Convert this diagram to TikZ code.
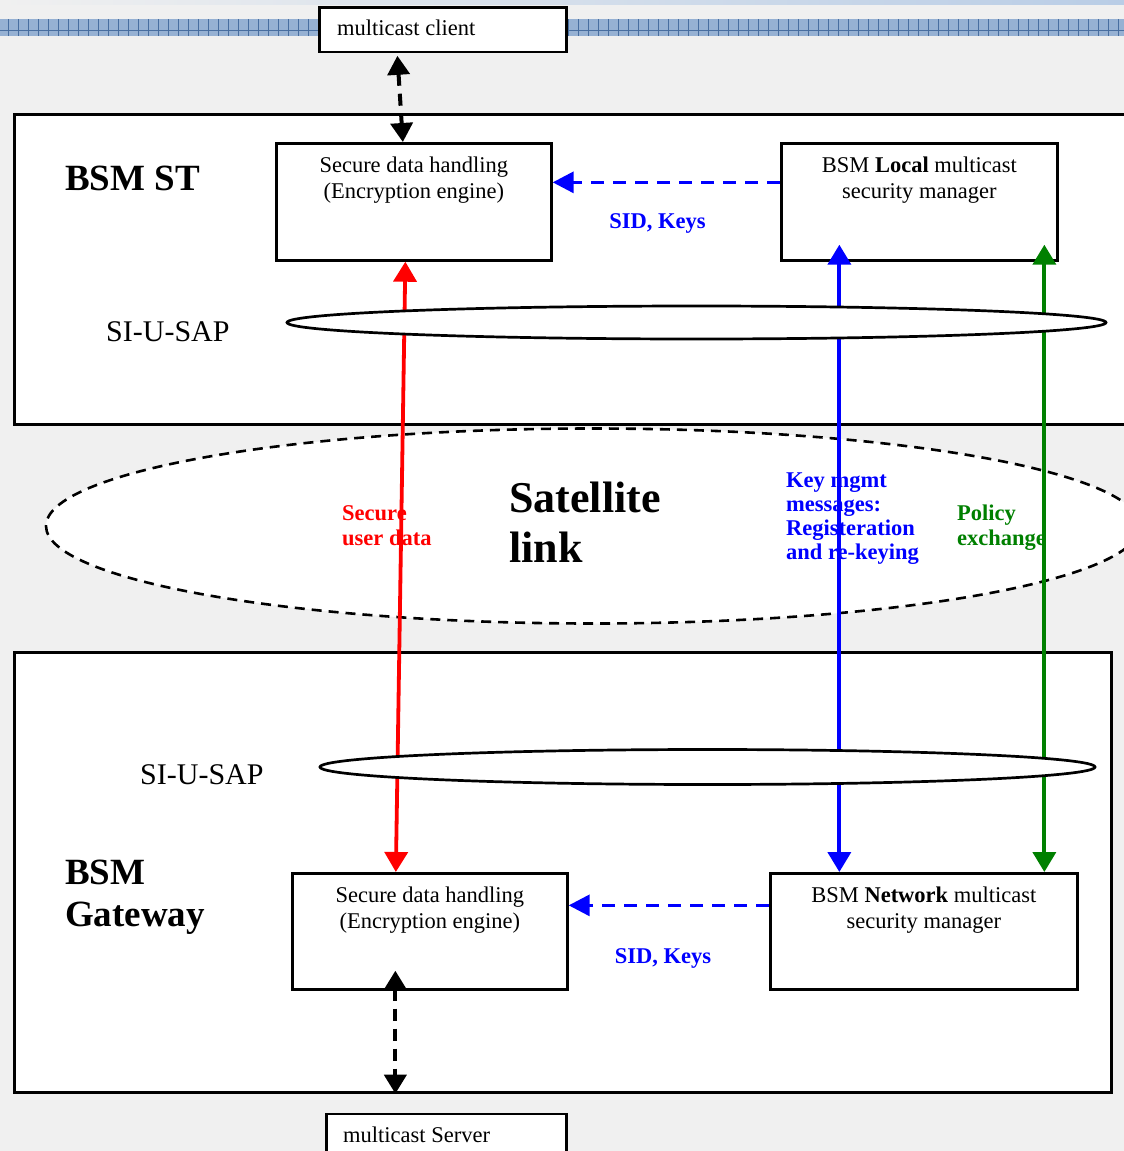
\documentclass[tikz,border=0pt]{standalone}
\usepackage{fontspec}
\setmainfont{Liberation Serif}
\usetikzlibrary{shapes.geometric,arrows.meta}
\definecolor{bg}{RGB}{240,240,240}
\definecolor{bandfill}{RGB}{150,177,211}
\definecolor{bandline}{RGB}{72,110,160}
\definecolor{topblue}{RGB}{185,205,230}
\definecolor{dgreen}{RGB}{0,128,0}
\tikzset{
  frame/.style={draw=black, line width=2.7pt, fill=white, inner sep=0pt, anchor=north west},
  boxtext/.style={inner sep=0pt, align=center, anchor=north, font=\fontsize{22.5pt}{26pt}\selectfont},
  plain/.style={inner sep=0pt, font=\fontsize{22.5pt}{26pt}\selectfont},
  biglabel/.style={inner sep=0pt, align=left, anchor=north west, font=\fontsize{37pt}{42pt}\selectfont\bfseries},
  saplabel/.style={inner sep=0pt, anchor=base west, font=\fontsize{30pt}{34pt}\selectfont},
  sap/.style={ellipse, draw=black, line width=2.7pt, fill=white, inner sep=0pt},
  colarr/.style={line width=3.8pt, {Triangle[length=20pt,width=23pt]}-{Triangle[length=20pt,width=23pt]}},
  bdash/.style={blue, line width=3.4pt, dash pattern=on 13pt off 9pt, -{Triangle[length=21pt,width=21pt]}},
  kdash/.style={black, line width=4pt, dash pattern=on 12pt off 8pt, {Triangle[length=19pt,width=22pt]}-{Triangle[length=19pt,width=22pt]}},
  note/.style={inner sep=0pt, align=left, anchor=north west, font=\fontsize{22.5pt}{25pt}\selectfont\bfseries}
}
\begin{document}
\begin{tikzpicture}[x=1pt,y=-1pt]
\useasboundingbox (0,0) rectangle (1124,1151);
\clip (0,0) rectangle (1124,1151);
\fill[bg] (0,0) rectangle (1124,1151);
\shade[left color=bg, right color=topblue] (0,0) rectangle (1124,4);
\fill[bandfill] (0,19) rectangle (1124,36);
\foreach \i in {8,18,...,1124} \draw[bandline, line width=0.8pt] (\i,19) -- (\i,36);
\draw[bandline, line width=0.8pt] (0,30.7) -- (1124,30.7);

% outer frames
\node[frame, line width=2.8pt, minimum width=247pt, minimum height=44.5pt] (client) at (318,6) {};
\node[frame, minimum width=1130pt, minimum height=310pt] (st) at (13,113) {};
\node[frame, minimum width=1097pt, minimum height=440pt] (gw) at (13,651) {};
\node[ellipse, draw=black, line width=2.6pt, dash pattern=on 10pt off 7pt, fill=white, inner sep=0pt,
      minimum width=1094pt, minimum height=195pt] (sat) at (593,526) {};

% inner boxes
\node[frame, minimum width=275pt, minimum height=117pt] (sdh1) at (275,142) {};
\node[frame, minimum width=276pt, minimum height=117pt] (loc) at (780,142) {};
\node[frame, minimum width=275pt, minimum height=116pt] (gsdh) at (291,872) {};
\node[frame, minimum width=307pt, minimum height=116pt] (net) at (769,872) {};

% texts
\node[plain, anchor=base west] (clienttxt) at (337,35) {multicast client};
\node[boxtext] (sdh1txt) at ([yshift=-14.5pt]sdh1.north) {Secure data handling\\(Encryption engine)};
\node[boxtext] (loctxt) at ([yshift=-14.5pt]loc.north) {BSM \textbf{Local} multicast\\security manager};
\node[boxtext] (gsdhtxt) at ([yshift=-14.5pt]gsdh.north) {Secure data handling\\(Encryption engine)};
\node[boxtext] (nettxt) at ([yshift=-14.5pt]net.north) {BSM \textbf{Network} multicast\\security manager};

\node[biglabel, anchor=base west] (stlbl) at (65,190) {BSM ST};
\node[biglabel] (gwlbl) at (65,860) {BSM\\Gateway};
\node[inner sep=0pt, align=left, anchor=north west, font=\fontsize{44pt}{50pt}\selectfont\bfseries] (satlbl) at (509,482) {Satellite\\link};

\node[plain, anchor=base, font=\fontsize{22.5pt}{26pt}\selectfont\bfseries, text=blue] (sid1) at (657.5,228) {SID, Keys};
\node[plain, anchor=base, font=\fontsize{22.5pt}{26pt}\selectfont\bfseries, text=blue] (sid2) at (663,963) {SID, Keys};

\node[note, text=red] (sudlbl) at (342,505) {Secure\\user data};
\node[note, text=blue, font=\fontsize{22.5pt}{24pt}\selectfont\bfseries] (keylbl) at (786,473) {Key mgmt\\messages:\\Registeration\\and re-keying};
\node[note, text=dgreen] (pollbl) at (957,505) {Policy\\exchange};

% connectors
\draw[colarr, red] ([xshift=-8.5pt]sdh1.south) -- ([xshift=-34pt]gsdh.north);
\draw[colarr, blue] ([xshift=-80pt,yshift=17pt]loc.south) -- ([xshift=-84.5pt]net.north);
\draw[colarr, dgreen] ([xshift=125pt,yshift=17pt]loc.south) -- ([xshift=120.5pt]net.north);
\draw[bdash] ([yshift=19.5pt]loc.west) -- ([yshift=19.5pt]sdh1.east);
\draw[bdash] ([yshift=26pt]net.west) -- ([yshift=26pt]gsdh.east);
\draw[kdash] ([xshift=-45.5pt,yshift=-2.5pt]client.south) -- ([xshift=-11pt]sdh1.north);
\draw[kdash] ([xshift=-34.5pt,yshift=20pt]gsdh.south) -- ([xshift=-167.5pt]gw.south);

% SAP ellipses over the lines
\node[sap, minimum width=819pt, minimum height=33pt] (sap1) at (696.5,322.5) {};
\node[sap, minimum width=775pt, minimum height=35pt] (sap2) at (707.5,767) {};
\node[saplabel] (sap1lbl) at (106,341) {SI-U-SAP};
\node[saplabel] (sap2lbl) at (140,784) {SI-U-SAP};

% server
\node[frame, line width=2.8pt, minimum width=240pt, minimum height=50pt] (srv) at (325,1112.5) {};
\node[plain, anchor=base west] (srvtxt) at (343,1142) {multicast Server};
\end{tikzpicture}
\end{document}
